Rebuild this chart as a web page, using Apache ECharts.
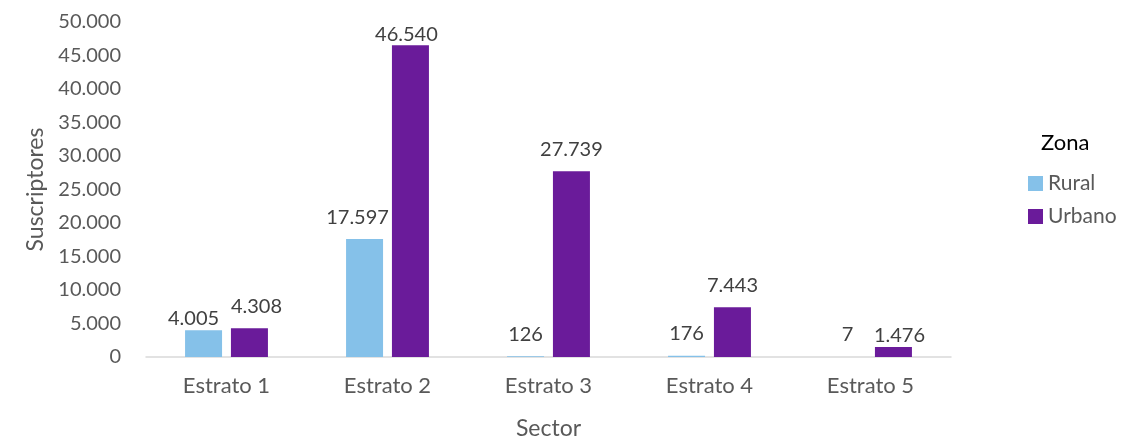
<!DOCTYPE html>
<html><head><meta charset="utf-8">
<script src="https://cdn.jsdelivr.net/npm/echarts@6/dist/echarts.min.js"></script>
<style>html,body{margin:0;padding:0;background:#fff;overflow:hidden}#c{width:1125px;height:438px}</style>
</head><body><div id="c"></div>
<script>
const categories = ['Estrato 1','Estrato 2','Estrato 3','Estrato 4','Estrato 5'];
const rural = [4005, 17597, 126, 176, 7];
const urbano = [4308, 46540, 27739, 7443, 1476];
const seriesNames = ['Rural','Urbano'];
const yTicks = {min:0, max:50000, step:5000};
// label nudges (style only): [dx, dy] per category
const ruralLabelNudge = [[-10,10],[-7,0],[0,0],[0,0],[0,0]];
const urbanoLabelNudge = [[7,0],[-4,11],[0,0],[0,0],[6,10]];
const FONT = 'Lato';
function fmt(v){return String(Math.round(v)).replace(/\B(?=(\d{3})+(?!\d))/g,'.');}
function withNudge(vals, nudges){
  return vals.map((v,i)=>({value:v,label:{offset:nudges[i]}}));
}
const labelStyle = {show:true,position:'top',distance:12,fontFamily:FONT,fontSize:20,color:'#404040',formatter:p=>fmt(p.value)};
const chart = echarts.init(document.getElementById('c'), null, {renderer:'canvas'});
chart.setOption({
  animation:false,
  textStyle:{fontFamily:FONT},
  grid:{left:146,right:174,top:22,bottom:81,containLabel:false,outerBoundsMode:'none'},
  title:{text:'Zona',left:1041,top:132,padding:0,textStyle:{fontFamily:FONT,fontSize:22,fontWeight:'normal',color:'#000'}},
  legend:{orient:'vertical',left:1028,top:173,padding:0,itemWidth:15,itemHeight:15,itemGap:12,icon:'rect',
    textStyle:{fontFamily:FONT,fontSize:21,lineHeight:20,color:'#595959'},data:seriesNames},
  xAxis:{type:'category',data:categories,name:'Sector',nameLocation:'middle',nameGap:60,
    nameTextStyle:{fontFamily:FONT,fontSize:23,color:'#595959'},
    axisLine:{lineStyle:{color:'#d9d9d9',width:1.5}},axisTick:{show:false},
    axisLabel:{fontFamily:FONT,fontSize:22,color:'#595959',margin:18}},
  yAxis:{type:'value',min:yTicks.min,max:yTicks.max,interval:yTicks.step,name:'Suscriptores',nameLocation:'middle',nameGap:99,
    nameTextStyle:{fontFamily:FONT,fontSize:23,color:'#595959'},
    splitLine:{show:false},axisLine:{show:false},axisTick:{show:false},
    axisLabel:{fontFamily:FONT,fontSize:20,color:'#595959',margin:25,formatter:fmt}},
  series:[
    {name:'Rural',type:'bar',data:withNudge(rural,ruralLabelNudge),barWidth:37,barGap:'24%',itemStyle:{color:'#85C1E9'},label:labelStyle},
    {name:'Urbano',type:'bar',data:withNudge(urbano,urbanoLabelNudge),barWidth:37,itemStyle:{color:'#6A1B9A'},label:labelStyle}
  ]
});
</script></body></html>
